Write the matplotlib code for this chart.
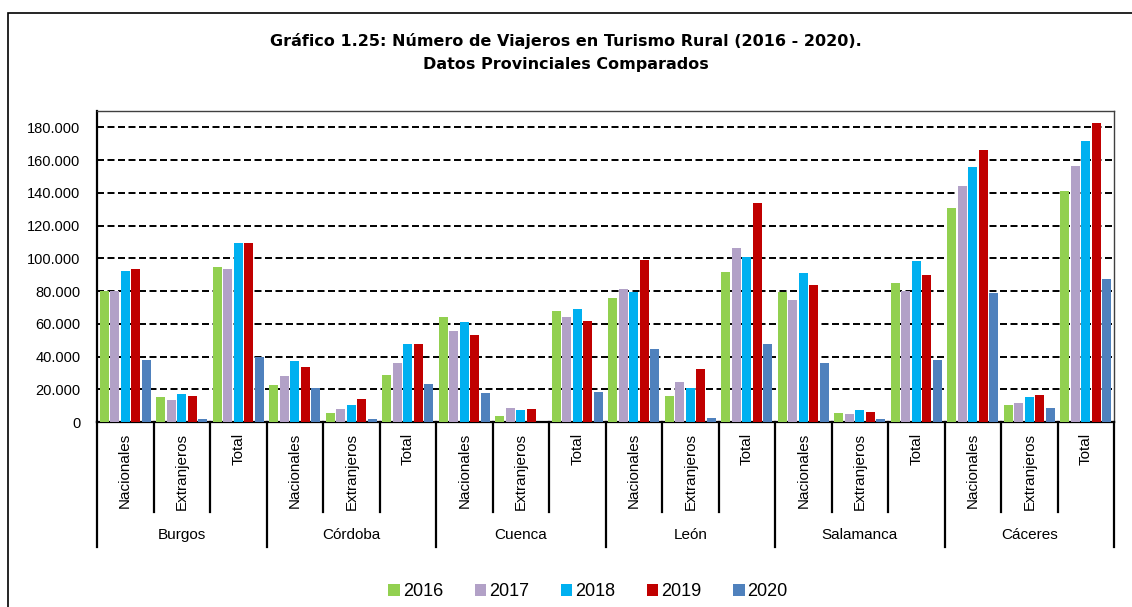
import numpy as np
import matplotlib.pyplot as plt
from matplotlib.patches import Rectangle
from matplotlib.ticker import FuncFormatter

plt.rcParams['font.family'] = ['Liberation Sans', 'DejaVu Sans']

provincias = ['Burgos', 'Córdoba', 'Cuenca', 'León', 'Salamanca', 'Cáceres']
tipos = ['Nacionales', 'Extranjeros', 'Total']
anios = ['2016', '2017', '2018', '2019', '2020']
colores = ['#92D050', '#B2A1C7', '#00B0F0', '#C00000', '#4F81BD']

# valores por año: para cada provincia -> Nacionales, Extranjeros, Total
v2016 = [80000, 15300, 95000, 22700, 5500, 28600, 64100, 3500, 68000,
         75500, 16100, 91800, 79200, 5300, 84900, 130600, 10400, 141400]
v2017 = [80000, 13500, 93500, 28200, 8000, 35900, 55300, 8600, 64300,
         81200, 24700, 106100, 74500, 5100, 80000, 144100, 11800, 156300]
v2018 = [92500, 17000, 109600, 37100, 10200, 47600, 61000, 7600, 69000,
         79600, 20800, 100800, 91000, 7600, 98600, 155500, 15100, 171600]
v2019 = [93500, 15700, 109400, 33700, 13900, 47600, 53000, 8000, 61600,
         99200, 32200, 133500, 83700, 5900, 89600, 166000, 16300, 182900]
v2020 = [38000, 1600, 39800, 20800, 1600, 23000, 18000, 0, 18400,
         44700, 2400, 47400, 35900, 1800, 38000, 78800, 8400, 87400]
series = [v2016, v2017, v2018, v2019, v2020]

fig = plt.figure(figsize=(11.32, 6.07), dpi=100)
ax = fig.add_axes([97 / 1132, 185 / 607, 1017 / 1132, 311 / 607])

n = len(provincias) * len(tipos)
x = np.arange(n) + 0.5
paso = 0.186
for i, (vals, col, lab) in enumerate(zip(series, colores, anios)):
    ax.bar(x + (i - 2) * paso, vals, width=0.155, color=col, label=lab, zorder=3)

ax.set_xlim(0, n)
ax.set_ylim(0, 190000)
ax.set_yticks(np.arange(0, 180001, 20000))
ax.yaxis.set_major_formatter(FuncFormatter(lambda v, p: f'{int(v):,}'.replace(',', '.')))
ax.tick_params(axis='y', length=0, pad=12, labelsize=10.5)
ax.set_xticks([])
ax.grid(axis='y', color='black', linestyle=(0, (3.6, 1.8)), linewidth=1.4, zorder=1)

for s in ['left', 'bottom']:
    ax.spines[s].set_linewidth(1.6)
for s in ['top', 'right']:
    ax.spines[s].set_linewidth(1.0)
    ax.spines[s].set_color('#404040')

tr = ax.get_xaxis_transform()
h_sub = -90 / 311
h_prov = -125 / 311
for k in range(n + 1):
    y_end = h_prov if k % 3 == 0 else h_sub
    ax.plot([k, k], [0, y_end], color='black', lw=1.6, transform=tr, clip_on=False)

for k in range(n):
    ax.text(x[k], -11 / 311, tipos[k % 3], rotation=90, ha='center', va='top',
            transform=tr, fontsize=11)
for j, prov in enumerate(provincias):
    ax.text(j * 3 + 1.5, -113 / 311, prov, ha='center', va='center',
            transform=tr, fontsize=11)

fig.text(0.5, 1 - 41 / 607, 'Gráfico 1.25: Número de Viajeros en Turismo Rural (2016 - 2020).',
         ha='center', va='center', fontsize=11.5, fontweight='bold', family='DejaVu Sans')
fig.text(0.5, 1 - 64 / 607, 'Datos Provinciales Comparados',
         ha='center', va='center', fontsize=11.5, fontweight='bold', family='DejaVu Sans')

fig.legend(loc='center', bbox_to_anchor=(588 / 1132, 1 - 592 / 607), ncol=5, frameon=False,
           fontsize=13, handlelength=0.65, handleheight=0.65, handletextpad=0.15,
           columnspacing=1.75)

fig.patches.append(Rectangle((8 / 1132, -0.05), 1.1, 0.05 + 1 - 13 / 607,
                             transform=fig.transFigure, fill=False, ec='black', lw=1.2))

fig.savefig('out.png', dpi=100)
